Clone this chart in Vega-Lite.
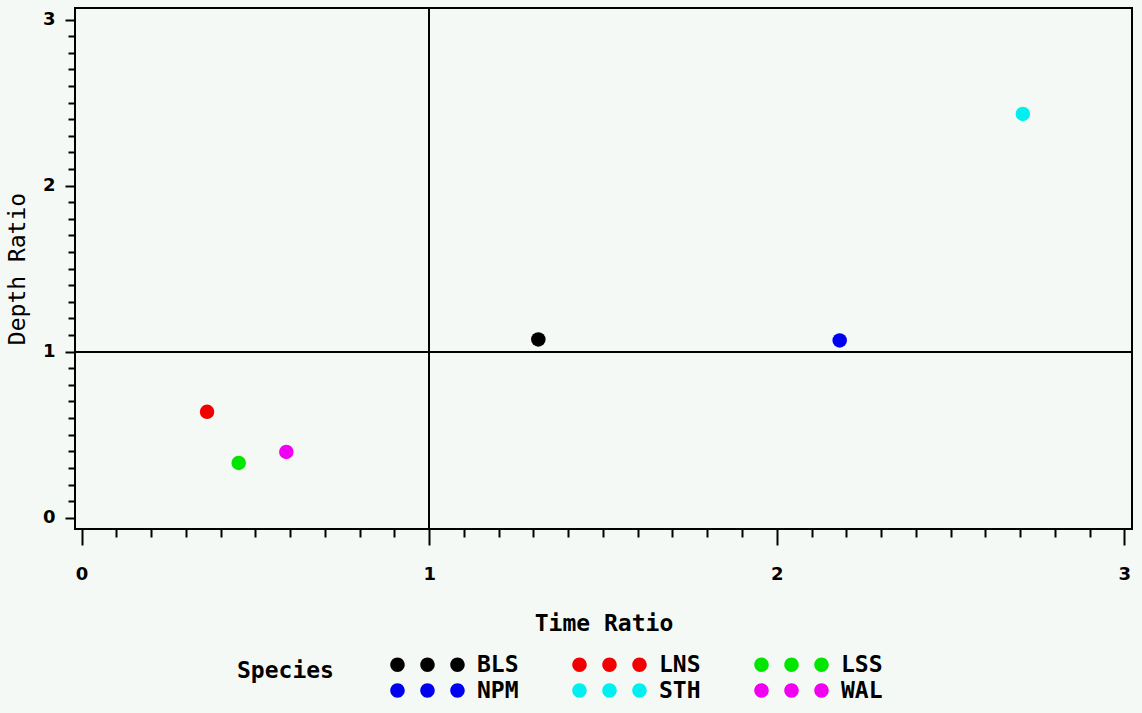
{
  "$schema": "https://vega.github.io/schema/vega-lite/v6.json",
  "width": 1057,
  "height": 521,
  "autosize": {"type": "none"},
  "padding": {"left": 75, "top": 8, "right": 10, "bottom": 184},
  "background": "#f5f9f6",
  "config": {
    "view": {"stroke": "#000000", "strokeWidth": 2, "fill": "#f5f9f6"},
    "axis": {
      "domain": false,
      "grid": false,
      "tickColor": "#000000",
      "tickWidth": 2,
      "tickCount": 100,
      "labelOverlap": false,
      "labelFont": "DejaVu Sans",
      "labelFontWeight": "bold",
      "labelFontSize": 18,
      "labelColor": "#000000",
      "titleColor": "#000000"
    }
  },
  "data": {
    "values": [
      {"species": "BLS", "time": 1.314, "depth": 1.074},
      {"species": "LNS", "time": 0.361, "depth": 0.638},
      {"species": "LSS", "time": 0.452, "depth": 0.330},
      {"species": "NPM", "time": 2.181, "depth": 1.068},
      {"species": "STH", "time": 2.708, "depth": 2.432},
      {"species": "WAL", "time": 0.589, "depth": 0.396}
    ]
  },
  "layer": [
    {
      "mark": {"type": "point", "filled": true, "size": 210, "opacity": 1, "strokeWidth": 0},
      "encoding": {
        "x": {
          "field": "time",
          "type": "quantitative",
          "scale": {"domain": [-0.019, 3.022], "nice": false, "zero": false},
          "axis": {
            "title": "Time Ratio",
            "titleFont": "DejaVu Sans Mono",
            "titleFontWeight": "bold",
            "titleFontSize": 23,
            "titlePadding": 29,
            "tickCount": 100,
            "values": [0, 0.1, 0.2, 0.3, 0.4, 0.5, 0.6, 0.7, 0.8, 0.9, 1, 1.1, 1.2, 1.3, 1.4, 1.5, 1.6, 1.7, 1.8, 1.9, 2, 2.1, 2.2, 2.3, 2.4, 2.5, 2.6, 2.7, 2.8, 2.9, 3],
            "labelExpr": "abs(datum.value - round(datum.value)) < 0.001 ? format(datum.value, 'd') : ''",
            "tickSize": {"condition": {"test": "abs(datum.value - round(datum.value)) < 0.001", "value": 16}, "value": 8},
            "labelPadding": 20
          }
        },
        "y": {
          "field": "depth",
          "type": "quantitative",
          "scale": {"domain": [-0.068, 3.07], "nice": false, "zero": false},
          "axis": {
            "title": "Depth Ratio",
            "titleFont": "DejaVu Sans Mono",
            "titleFontWeight": "normal",
            "titleFontSize": 23,
            "titlePadding": 13,
            "tickCount": 100,
            "values": [0, 0.1, 0.2, 0.3, 0.4, 0.5, 0.6, 0.7, 0.8, 0.9, 1, 1.1, 1.2, 1.3, 1.4, 1.5, 1.6, 1.7, 1.8, 1.9, 2, 2.1, 2.2, 2.3, 2.4, 2.5, 2.6, 2.7, 2.8, 2.9, 3],
            "labelExpr": "abs(datum.value - round(datum.value)) < 0.001 ? format(datum.value, 'd') : ''",
            "tickSize": {"condition": {"test": "abs(datum.value - round(datum.value)) < 0.001", "value": 10}, "value": 7},
            "labelPadding": 10
          }
        },
        "color": {
          "field": "species",
          "type": "nominal",
          "scale": {
            "domain": ["BLS", "LNS", "LSS", "NPM", "STH", "WAL"],
            "range": ["#000000", "#f20000", "#00e600", "#0000f0", "#00f0f0", "#f000f0"]
          },
          "legend": {
            "orient": "none",
            "legendX": 162,
            "legendY": 645,
            "direction": "horizontal",
            "columns": 3,
            "gridAlign": "all",
            "columnPadding": 49,
            "rowPadding": 2,
            "title": "Species",
            "titleOrient": "left",
            "titlePadding": 52,
            "titleFont": "DejaVu Sans Mono",
            "titleFontWeight": "bold",
            "titleFontSize": 23,
            "titleColor": "#000000",
            "titleAnchor": "middle",
            "titleBaseline": "alphabetic",
            "labelFont": "DejaVu Sans Mono",
            "labelFontWeight": "bold",
            "labelFontSize": 23,
            "labelColor": "#000000",
            "labelOffset": 68,
            "symbolType": "M -1,0 A 1,1 0 1,0 1,0 A 1,1 0 1,0 -1,0 Z M 3.14,0 A 1,1 0 1,0 5.14,0 A 1,1 0 1,0 3.14,0 Z M 7.28,0 A 1,1 0 1,0 9.28,0 A 1,1 0 1,0 7.28,0 Z",
            "symbolSize": 210,
            "symbolStrokeWidth": 0,
            "symbolOpacity": 1
          }
        }
      }
    },
    {
      "mark": {"type": "rule", "color": "#000000", "strokeWidth": 1.5},
      "encoding": {"x": {"datum": 1, "type": "quantitative"}}
    },
    {
      "mark": {"type": "rule", "color": "#000000", "strokeWidth": 1.5},
      "encoding": {"y": {"datum": 1, "type": "quantitative"}}
    }
  ]
}
